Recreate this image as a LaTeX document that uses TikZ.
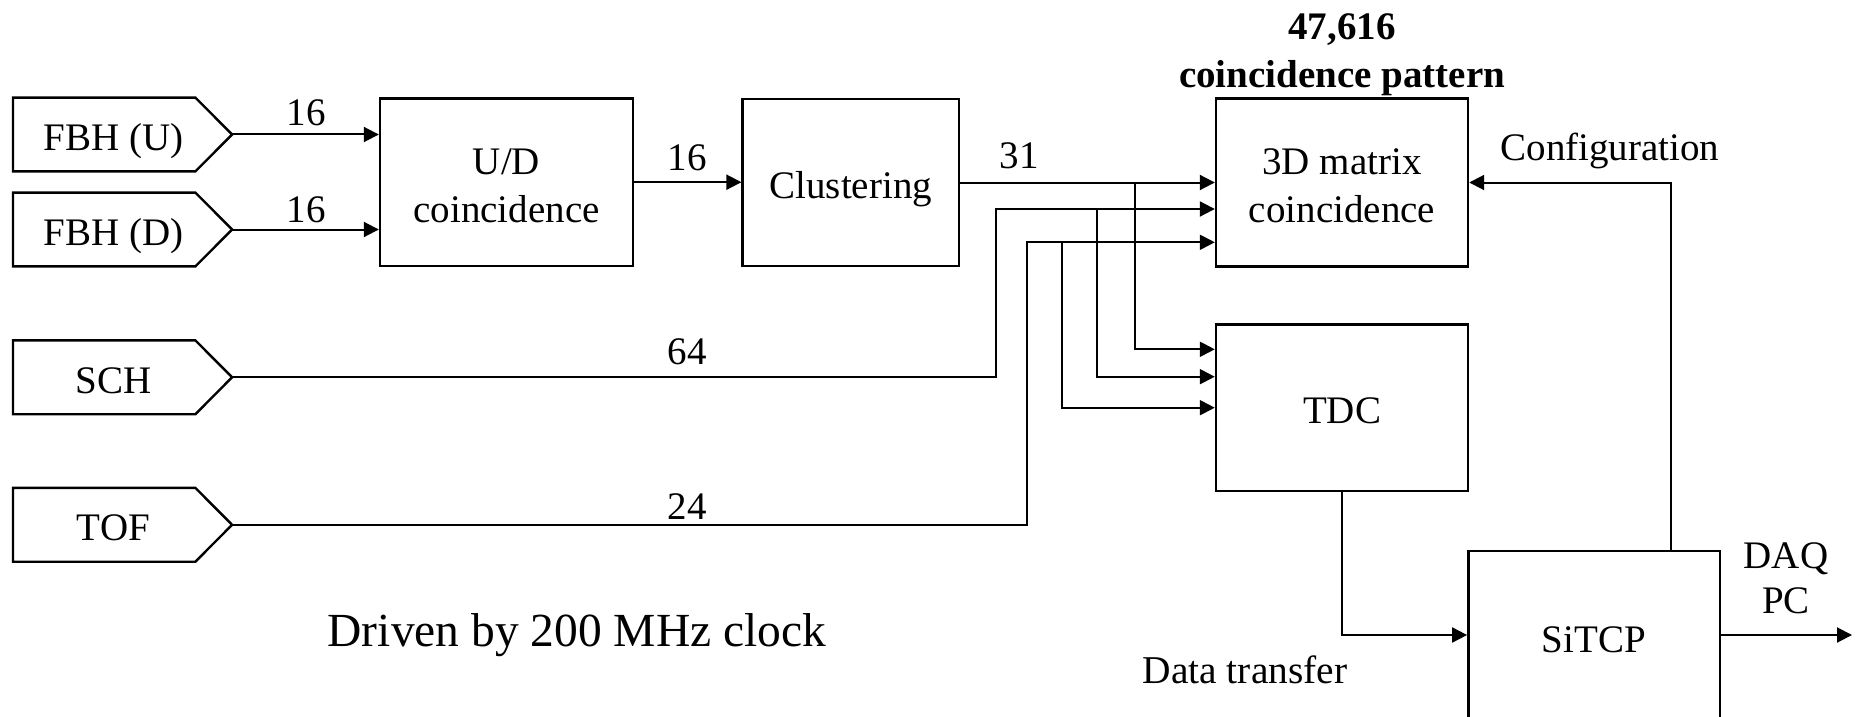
\documentclass[tikz,border=0pt]{standalone}
\usepackage{fontspec}
\setmainfont{Liberation Serif}
\usetikzlibrary{arrows.meta,calc}
\newcommand\pentagonof[1]{%
  \draw[pent] (#1.north west) -- ([xshift=-9.2pt]#1.north east) -- ([xshift=9.15pt]#1.east)
    -- ([xshift=-9.2pt]#1.south east) -- (#1.south west) -- cycle;
  \coordinate (#1-t) at ([xshift=9.15pt]#1.east);}
\begin{document}
\begin{tikzpicture}[x=0.5pt,y=-0.5pt,
  base/.style={font=\fontsize{19.5pt}{24pt}\selectfont},
  blk/.style={draw, line width=1.2pt, align=center, inner sep=0pt, base},
  oneline/.style={text height=16pt, text depth=0pt},
  inbody/.style={inner sep=0pt, minimum width=100pt, minimum height=36.5pt, base, oneline},
  pent/.style={line width=1.2pt, line join=miter},
  arr/.style={line width=1pt, -{Triangle[length=7.5pt,width=7.5pt]}},
  lbl/.style={base, inner sep=0pt}]
\useasboundingbox (0,0) rectangle (1857,717);
\clip (0,0) rectangle (1857,717);

% input sources
\node[inbody] (fbhu) at (113.4,134.5) {FBH (U)};
\node[inbody] (fbhd) at (113.4,229.5) {FBH (D)};
\node[inbody] (sch)  at (113.4,377.3) {SCH};
\node[inbody] (tof)  at (113.4,524.8) {TOF};
\pentagonof{fbhu}
\pentagonof{fbhd}
\pentagonof{sch}
\pentagonof{tof}

% blocks
\node[blk, minimum width=126.5pt, minimum height=83.7pt] (ud)   at (506.5,182.2) {\rule{0pt}{16.3pt}U/D\\coincidence};
\node[blk, oneline, minimum width=108.2pt, minimum height=83.7pt] (clus) at (850.8,182.5) {Clustering};
\node[blk, minimum width=126pt,   minimum height=84pt]   (mat)  at (1342,182.5) {\rule{0pt}{16.1pt}3D matrix\\coincidence};
\node[blk, oneline, minimum width=126pt,   minimum height=83.3pt] (tdc)  at (1342,407.7) {TDC};
\node[blk, minimum width=125.7pt, minimum height=89.3pt] (sitcp) at (1594,640) {SiTCP};

% junction coordinates
\coordinate (jC)  at (1134.7,182.5);
\coordinate (jS)  at (995.6,209);
\coordinate (jS2) at (1096.7,209);
\coordinate (jT)  at (1026.5,242.3);
\coordinate (jT2) at (1061.6,242.3);
\coordinate (cfgx) at (1671,0);
\coordinate (daq) at (1852,635);

% connectors
\draw[arr] (fbhu-t) -- (fbhu-t -| ud.west);
\draw[arr] (fbhd-t) -- (fbhd-t -| ud.west);
\draw[arr] (ud.east) -- (ud.east -| clus.west);
\draw[arr] (clus.east) -- (clus.east -| mat.west);
\draw[arr] (sch-t) -| (jS) -- ([yshift=-13.25pt]mat.west);
\draw[arr] (tof-t) -| (jT) -- ([yshift=-29.9pt]mat.west);
\draw[arr] (jC) |- ([yshift=29.2pt]tdc.west);
\draw[arr] (jS2) |- ([yshift=15.5pt]tdc.west);
\draw[arr] (jT2) |- (tdc.west);
\draw[arr] (tdc.south) |- ([yshift=2.5pt]sitcp.west);
\draw[arr] ([yshift=2.5pt]sitcp.east) -- (daq);
\draw[arr] (sitcp.north -| cfgx) |- (mat.east);

% labels
\node[lbl] (l16a) at (306,112.5) {16};
\node[lbl] (l16b) at (306,210) {16};
\node[lbl] (l16c) at (687,157.5) {16};
\node[lbl] (l31)  at (1019,156) {31};
\node[lbl] (l64)  at (687,351.7) {64};
\node[lbl] (l24)  at (687,507) {24};
\node[lbl, font=\fontsize{19.5pt}{24.25pt}\selectfont\bfseries, align=center] (pat) at (1342,54.5) {47,616\\coincidence pattern};
\node[lbl] (cfg) at (1610,151) {Configuration};
\node[lbl, font=\fontsize{19.5pt}{22.5pt}\selectfont, align=center] (daqpc) at (1786,578) {DAQ\\PC};
\node[lbl, font=\fontsize{19.7pt}{23pt}\selectfont] (dt) at (1245,670) {Data transfer};
\node[lbl, font=\fontsize{23.75pt}{28pt}\selectfont] (clk) at (577,635.5) {Driven by 200 MHz clock};
\end{tikzpicture}
\end{document}
